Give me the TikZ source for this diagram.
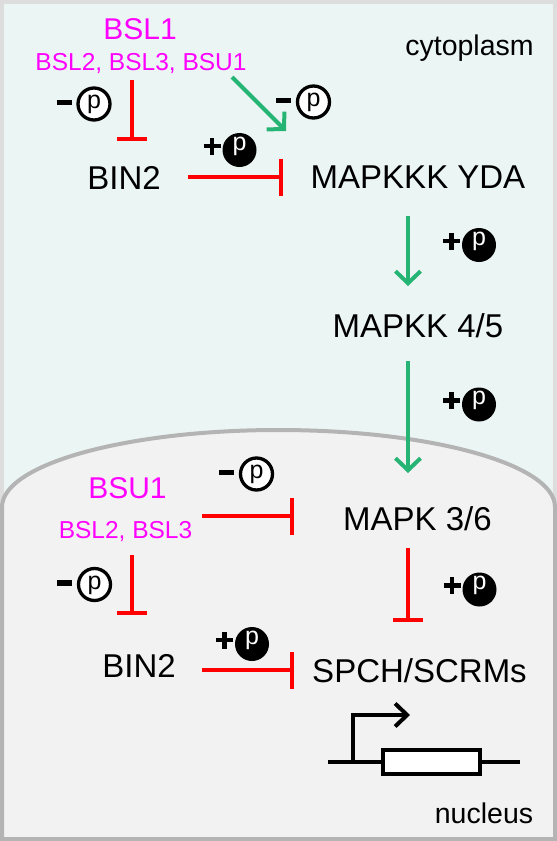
\documentclass[tikz,border=0pt]{standalone}
\usepackage{fontspec}
\setmainfont{Liberation Sans}
\usetikzlibrary{arrows.meta}
\definecolor{cyto}{RGB}{235,246,244}
\definecolor{nucfill}{RGB}{242,242,242}
\definecolor{nucline}{RGB}{180,180,180}
\definecolor{framegray}{RGB}{221,221,221}
\definecolor{grn}{RGB}{38,180,117}
\definecolor{mag}{RGB}{255,0,255}
\definecolor{rd}{RGB}{255,0,0}
\newcommand\fsz[1]{\fontsize{#1}{#1}\selectfont}
\newcommand\phFill[3]{%
  \node[pfill] (#1) at (#2,#3) {};
  \node[ptxt, text=white] (#1t) at (#1.center) {p};
  \draw[plussign] ([xshift=-36pt,yshift=4pt]#1.center) -- ([xshift=-19pt,yshift=4pt]#1.center);
  \draw[plussign] ([xshift=-27.5pt,yshift=12.5pt]#1.center) -- ([xshift=-27.5pt,yshift=-4.5pt]#1.center);
}
\newcommand\phOpen[3]{%
  \node[popen] (#1) at (#2,#3) {};
  \node[ptxt] (#1t) at ([yshift=-4.8pt]#1.center) {p};
  \draw[minussign] ([xshift=-37.5pt,yshift=1.5pt]#1.center) -- ([xshift=-22.5pt,yshift=1.5pt]#1.center);
}
\begin{document}
\begin{tikzpicture}[x=1pt,y=-1pt,
  lbl/.style={anchor=base, inner sep=0pt, font=\fsz{33}},
  mlbl/.style={anchor=base, inner sep=0pt, text=mag, font=\fsz{30}},
  slbl/.style={anchor=base, inner sep=0pt, text=mag, font=\fsz{24.5}},
  clbl/.style={anchor=base, inner sep=0pt, font=\fsz{28.5}},
  act/.style={draw=grn, line width=4pt, -{Straight Barb[length=12pt,width=25pt]}},
  inhv/.style={draw=rd, line width=4pt, -{Bar[width=30pt]}},
  inhh/.style={draw=rd, line width=4pt, -{Bar[width=37pt]}},
  pfill/.style={circle, fill=black, minimum size=34pt, inner sep=0pt},
  popen/.style={circle, draw=black, fill=white, line width=3.3pt, minimum size=32pt, inner sep=0pt},
  ptxt/.style={anchor=base, inner sep=0pt, font=\fsz{25}},
  minussign/.style={draw=black, line width=5.5pt},
  plussign/.style={draw=black, line width=4.5pt},
  geneline/.style={draw=black, line width=4pt, miter limit=10},
]
\useasboundingbox (0,0) rectangle (557,841);
% compartments
\fill[cyto] (0,0) rectangle (557,841);
\draw[framegray, line width=4pt] (2,2) rectangle (555,839);
\filldraw[fill=nucfill, draw=nucline, line width=4pt]
  (2,839) -- (2,507) arc[start angle=180, end angle=0, x radius=276.5pt, y radius=77pt] -- (555,839) -- cycle;
\node[clbl] (cyto) at (469.5,55) {cytoplasm};
\node[clbl] (nucl) at (484,823) {nucleus};

% labels
\node[mlbl] (bsl1) at (140,39) {BSL1};
\node[slbl] (bslg) at (141,70) {BSL2, BSL3, BSU1};
\node[lbl] (bin2a) at (124,189) {BIN2};
\node[lbl] (yda) at (418,188) {MAPKKK YDA};
\node[lbl] (mkk) at (418,337) {MAPKK 4/5};
\node[lbl] (mpk) at (417.5,530) {MAPK 3/6};
\node[lbl] (spch) at (419.5,682) {SPCH/SCRMs};
\node[mlbl] (bsu1) at (127.5,498) {BSU1};
\node[slbl] (bslg2) at (125.5,538) {BSL2, BSL3};
\node[lbl] (bin2b) at (139,677) {BIN2};

% connector end points
\coordinate (a1s) at (132,80);   \coordinate (a1e) at (132,140.5);
\coordinate (a2s) at (188,177);  \coordinate (a2e) at (282.5,177);
\coordinate (g1s) at (232,77);   \coordinate (g1e) at (286,131);
\coordinate (g2s) at (408,216);  \coordinate (g2e) at (408,286);
\coordinate (g3s) at (408,361);  \coordinate (g3e) at (408,473);
\coordinate (a3s) at (202,516);  \coordinate (a3e) at (294,516);
\coordinate (a4s) at (132,555);  \coordinate (a4e) at (132,614.5);
\coordinate (a5s) at (202,670);  \coordinate (a5e) at (294,670);
\coordinate (a6s) at (408,548);  \coordinate (a6e) at (408,621.5);

\draw[inhv] (a1s) -- (a1e);
\draw[inhh] (a2s) -- (a2e);
\draw[act] (g1s) -- (g1e);
\draw[act] (g2s) -- (g2e);
\draw[act] (g3s) -- (g3e);
\draw[inhh] (a3s) -- (a3e);
\draw[inhv] (a4s) -- (a4e);
\draw[inhh] (a5s) -- (a5e);
\draw[inhv] (a6s) -- (a6e);

% phosphorylation marks
\phOpen{p1}{94}{104}
\phFill{p2}{239.5}{150}
\phOpen{p3}{313.5}{102}
\phFill{p4}{479}{245}
\phFill{p5}{479}{404.5}
\phOpen{p6}{256.5}{474}
\phOpen{p7}{94.5}{584.5}
\phFill{p8}{252}{644}
\phFill{p9}{479.5}{589.5}

% gene
\coordinate (gl) at (328,762); \coordinate (gr) at (520,762);
\coordinate (pr0) at (353,762); \coordinate (pr1) at (353,715); \coordinate (pr2) at (410,715);
\draw[geneline] (gl) -- (gr);
\node[draw=black, line width=4pt, fill=white, minimum width=97pt, minimum height=24pt, inner sep=0pt] (gbox) at (431.5,762) {};
\draw[geneline, -{Straight Barb[length=12pt,width=23pt]}] (pr0) -- (pr1) -- (pr2);
\end{tikzpicture}
\end{document}
